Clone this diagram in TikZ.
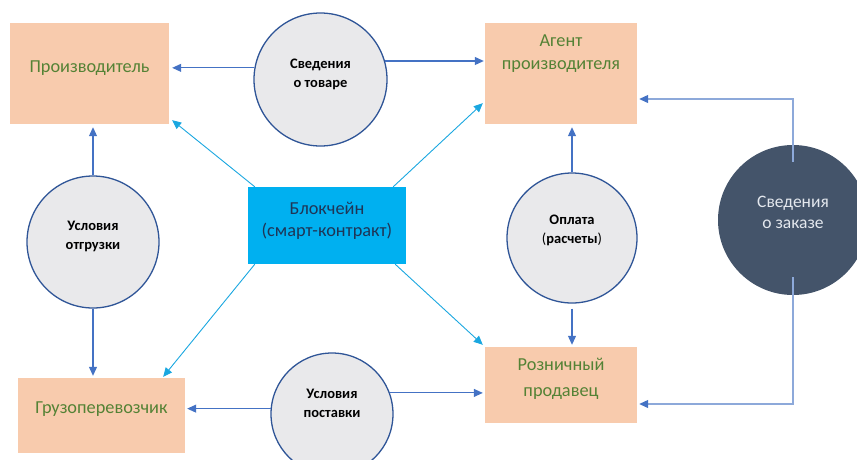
\documentclass[tikz,border=0pt]{standalone}
\usepackage{fontspec}
\setmainfont{Carlito}
\usetikzlibrary{arrows.meta,calc}
\definecolor{peach}{HTML}{F8CBAD}
\definecolor{lblgreen}{HTML}{548235}
\definecolor{circfill}{HTML}{E9E9EB}
\definecolor{circline}{HTML}{2F5597}
\definecolor{arrblue}{HTML}{4472C4}
\definecolor{lineblue}{HTML}{8DA9DA}
\definecolor{cyanarr}{HTML}{1AA7E0}
\definecolor{bcfill}{HTML}{00B0F0}
\definecolor{bctext}{HTML}{1F3556}
\definecolor{darkc}{HTML}{44546A}
\definecolor{darkctext}{HTML}{E4E8EE}
\tikzset{
  box/.style={rectangle, fill=peach, draw=none, inner sep=0pt},
  boxtext/.style={text=lblgreen, font=\fontsize{18.3}{24}\selectfont, align=center, inner sep=0pt},
  circ/.style={circle, fill=circfill, draw=circline, line width=1.3pt, inner sep=0pt, align=center, font=\bfseries\fontsize{14.5}{19}\selectfont},
  arr/.style={draw=arrblue, line width=1.1pt, -{Triangle[length=9pt,width=8pt]}},
  carr/.style={draw=cyanarr, line width=0.9pt, -{Triangle[length=9pt,width=8pt]}},
  zarr/.style={draw=lineblue, line width=1.1pt, -{Triangle[length=9pt,width=8pt,color=arrblue]}},
}
\begin{document}
\begin{tikzpicture}[x=1pt,y=-1pt]
\useasboundingbox (0,0) rectangle (857,459);
% boxes
\node[box, minimum width=159pt, minimum height=101pt] (prod) at (89.5,73.5) {};
\node[boxtext] (prodT) at (89.5,68) {Производитель};
\node[box, minimum width=152pt, minimum height=101pt] (agent) at (561,73.5) {};
\node[boxtext, font=\fontsize{18.3}{23}\selectfont] (agentT) at (561,54) {Агент\\производителя};
\node[box, minimum width=167pt, minimum height=75pt] (carr) at (101.5,415.5) {};
\node[boxtext] (carrT) at (101.5,409) {Грузоперевозчик};
\node[box, minimum width=152pt, minimum height=76pt] (ret) at (561,385) {};
\node[boxtext, font=\fontsize{18.3}{25.5}\selectfont] (retT) at (561,379) {Розничный\\продавец};
\node[rectangle, fill=bcfill, minimum width=158pt, minimum height=77pt, inner sep=0pt] (bc) at (327,225.5) {};
\node[boxtext, text=bctext, font=\fontsize{18.3}{22.5}\selectfont] (bcT) at (327,221) {Блокчейн\\(смарт-контракт)};
% circles
\node[circ, minimum size=133pt] (info) at (320.5,79.5) {};
\node[circ, draw=none, fill=none] (infoT) at (320.5,74) {Сведения\\о товаре};
\node[circ, minimum size=132pt] (otg) at (93,242) {};
\node[circ, draw=none, fill=none] (otgT) at (93,236) {Условия\\отгрузки};
\node[circ, minimum size=130pt] (opl) at (572,238) {};
\node[circ, draw=none, fill=none] (oplT) at (572,230.5) {Оплата\\\textmd{(}расчеты\textmd{)}};
\node[circ, minimum size=122pt] (post) at (332,414) {};
\node[circ, draw=none, fill=none] (postT) at (332,403) {Условия\\поставки};
\node[circle, fill=darkc, draw=none, minimum size=150pt, inner sep=0pt] (zak) at (793,220) {};
\node[text=darkctext, font=\fontsize{17.5}{21.5}\selectfont, align=center, inner sep=0pt] (zakT) at (793,212.5) {Сведения\\о заказе};
% blue arrows
\draw[arr, shorten >=3pt] (info.170) -- (info.170 -| prod.east);
\draw[arr, shorten >=1pt] (info.16) -- (info.16 -| agent.west);
\draw[arr, shorten >=3pt] (otg.north) -- (otg.north |- prod.south);
\draw[arr, shorten >=2pt] (otg.south) -- (otg.south |- carr.north);
\draw[arr, shorten >=3pt] (opl.north) -- (opl.north |- agent.south);
\draw[arr, shorten <=5pt, shorten >=2pt] (opl.south) -- (opl.south |- ret.north);
\draw[arr, shorten >=2pt] (post.175) -- (post.175 -| carr.east);
\draw[arr, shorten >=2pt] (post.20) -- (post.20 -| ret.west);
% order info lines
\draw[zarr, shorten >=2pt] ([yshift=-17]zak.north) |- ([yshift=-25.5]agent.east);
\draw[zarr, shorten >=2pt] ([yshift=18]zak.south) |- ([yshift=-19]ret.east);
% cyan arrows from blockchain
\draw[carr] ([xshift=7]bc.north west) -- ([shift={(3,-4)}]prod.south east);
\draw[carr] ([xshift=-13]bc.north east) -- ([shift={(-2,-21)}]agent.south west);
\draw[carr] ([xshift=7]bc.south west) -- ([shift={(-22,-1)}]carr.north east);
\draw[carr] ([xshift=-11]bc.south east) -- ([shift={(-2,-2)}]ret.north west);
\end{tikzpicture}
\end{document}
